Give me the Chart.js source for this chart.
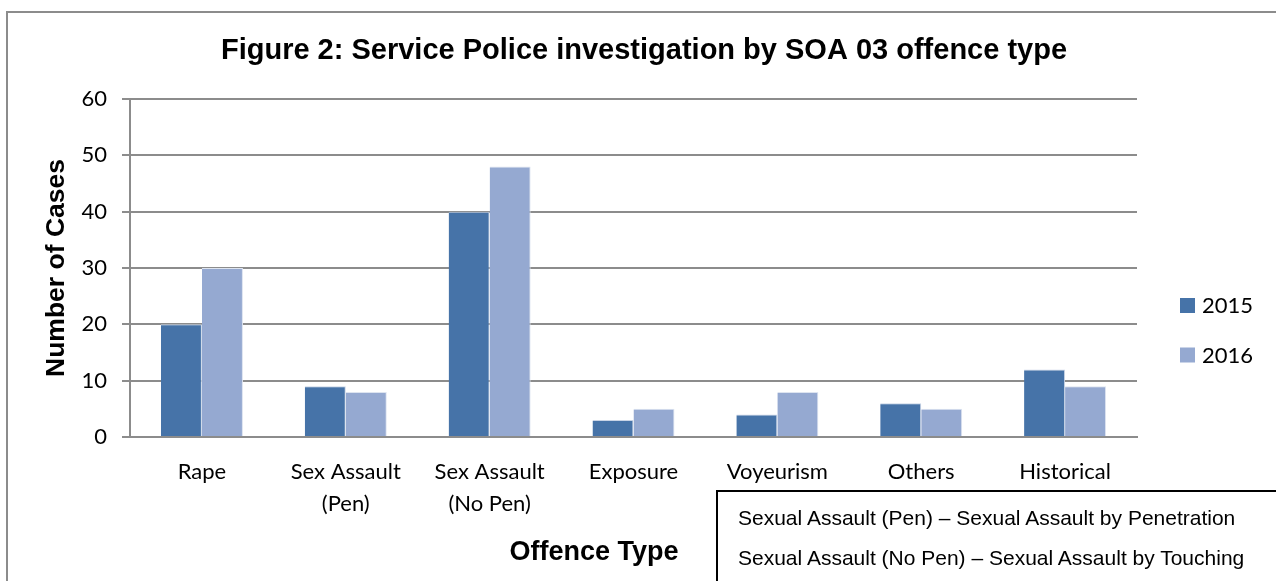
<!DOCTYPE html>
<html>
<head>
<meta charset="utf-8">
<script src="https://cdn.jsdelivr.net/npm/chart.js@4.4.1/dist/chart.umd.min.js"></script>
<style>
  html, body { margin: 0; padding: 0; background: #fff; }
  #wrap { position: relative; width: 1276px; height: 581px; overflow: hidden; }
  #frame {
    position: absolute; left: 6px; top: 11px; width: 1300px; height: 600px;
    border-top: 2px solid #8c8c8c; border-left: 2px solid #8c8c8c;
  }
  #note {
    position: absolute; left: 716px; top: 490px; width: 600px; height: 120px;
    border: 2px solid #000; box-sizing: border-box;
    font-family: "Liberation Sans", Arial, sans-serif; font-size: 21px; color: #000;
    padding: 17px 0 0 20px; line-height: 40px;
  }
  #note p { margin: 0; line-height: 40px; margin-top: -11px; }
  #note p + p { margin-top: 0; }
  canvas { position: absolute; left: 0; top: 0; }
</style>
</head>
<body>
<div id="wrap">
  <div id="frame"></div>
  <canvas id="chart" width="1276" height="581"></canvas>
  <div id="note">
    <p>Sexual Assault (Pen) – Sexual Assault by Penetration</p>
    <p>Sexual Assault (No Pen) – Sexual Assault by Touching</p>
  </div>
</div>
<script>
const offenceTypes = [
  'Rape',
  ['Sex Assault', '(Pen)'],
  ['Sex Assault', '(No Pen)'],
  'Exposure',
  'Voyeurism',
  'Others',
  'Historical'
];
const cases2015 = [20, 9, 40, 3, 4, 6, 12];
const cases2016 = [30, 8, 48, 5, 8, 5, 9];
const yTicks = [0, 10, 20, 30, 40, 50, 60];

const chartTitle = 'Figure 2: Service Police investigation by SOA 03 offence type';
const yTitle = 'Number of Cases';
const xTitle = 'Offence Type';

const labelFont = 'Lato, "Open Sans", sans-serif';
const boldFont = '"Liberation Sans", Arial, sans-serif';

// titles and the right-hand legend are painted on the canvas after the bars
const decorations = {
  id: 'decorations',
  afterDraw(chart) {
    const { ctx, chartArea } = chart;
    ctx.save();
    ctx.fillStyle = '#000';
    ctx.textBaseline = 'middle';
    ctx.textAlign = 'center';

    ctx.font = 'bold 29px ' + boldFont;
    ctx.fillText(chartTitle, 644, 51);

    ctx.font = 'bold 27px ' + boldFont;
    ctx.fillText(xTitle, 594, 553);

    ctx.save();
    ctx.translate(57, (chartArea.top + chartArea.bottom) / 2);
    ctx.rotate(-Math.PI / 2);
    ctx.font = 'bold 26.5px ' + boldFont;
    ctx.fillText(yTitle, 0, 0);
    ctx.restore();

    // legend
    ctx.textAlign = 'left';
    ctx.font = '22px ' + labelFont;
    chart.data.datasets.forEach((ds, i) => {
      const y = 305 + i * 49.5;
      ctx.fillStyle = ds.backgroundColor;
      ctx.fillRect(1180, y - 7, 15, 15);
      ctx.fillStyle = '#000';
      ctx.fillText(ds.label, 1202, y + 1);
    });
    ctx.restore();
  }
};

new Chart(document.getElementById('chart'), {
  type: 'bar',
  data: {
    labels: offenceTypes,
    datasets: [
      {
        label: '2015',
        data: cases2015,
        backgroundColor: '#4673a8',
        borderColor: '#c9d4e6',
        borderWidth: { top: 1, right: 1, left: 0, bottom: 0 },
        categoryPercentage: 0.57,
        barPercentage: 1.0
      },
      {
        label: '2016',
        data: cases2016,
        backgroundColor: '#95a9d1',
        borderColor: '#dde4f0',
        borderWidth: { top: 1, right: 1, left: 0, bottom: 0 },
        categoryPercentage: 0.57,
        barPercentage: 1.0
      }
    ]
  },
  options: {
    responsive: false,
    animation: false,
    layout: { padding: { top: 99, left: 0, right: 139, bottom: 62 } },
    plugins: {
      legend: { display: false },
      title: { display: false },
      tooltip: { enabled: false }
    },
    scales: {
      x: {
        grid: { display: false },
        border: { display: true, color: '#8c8c8c', width: 2 },
        ticks: {
          color: '#000',
          padding: 11,
          maxRotation: 0,
          autoSkip: false,
          font: { family: labelFont, size: 22, lineHeight: 1.45 }
        },
        afterFit(scale) { scale.height = 82; }
      },
      y: {
        min: 0,
        max: 60,
        afterBuildTicks(scale) { scale.ticks = yTicks.map(v => ({ value: v })); },
        grid: { color: '#8c8c8c', lineWidth: 2, tickLength: 8 },
        border: { display: true, color: '#8c8c8c', width: 2 },
        ticks: {
          color: '#000',
          padding: 15,
          font: { family: labelFont, size: 22 }
        },
        afterFit(scale) { scale.width = 130; }
      }
    }
  },
  plugins: [decorations]
});
</script>
</body>
</html>
